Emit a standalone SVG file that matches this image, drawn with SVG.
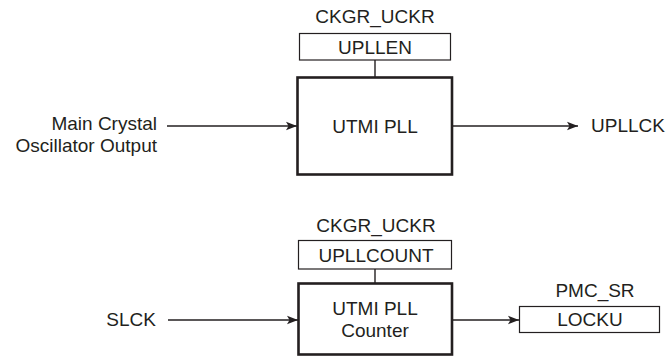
<svg xmlns="http://www.w3.org/2000/svg" width="670" height="360" viewBox="0 0 670 360">
<style>
text{font-family:"Liberation Sans",Arial,Helvetica,sans-serif;font-size:19px;fill:#231f20}
.c{text-anchor:middle}
.e{text-anchor:end}
.reg{fill:#fff;stroke:#231f20;stroke-width:1.2}
.blk{fill:#fff;stroke:#231f20;stroke-width:2.6}
.ln{fill:none;stroke:#231f20;stroke-width:1.4}
</style>
<defs>
<marker id="ah" markerUnits="userSpaceOnUse" markerWidth="12" markerHeight="10" refX="11" refY="5" orient="auto">
<path d="M0,0.8 L11,5 L0,9.2 L2.5,5 Z" fill="#231f20"/>
</marker>
</defs>
<g id="connectors">
<line class="ln" x1="167" y1="126" x2="297" y2="126" marker-end="url(#ah)"/>
<line class="ln" x1="453" y1="126" x2="578" y2="126" marker-end="url(#ah)"/>
<line class="ln" x1="375" y1="60" x2="375" y2="77"/>
<line class="ln" x1="168" y1="320" x2="298" y2="320" marker-end="url(#ah)"/>
<line class="ln" x1="453" y1="320" x2="519" y2="320" marker-end="url(#ah)"/>
<line class="ln" x1="375" y1="269" x2="375" y2="283"/>
</g>
<g id="main-crystal">
<text class="e" x="157" y="130">Main Crystal</text>
<text class="e" x="157" y="152">Oscillator Output</text>
</g>
<g id="upllen">
<text class="c" x="375" y="23">CKGR_UCKR</text>
<rect class="reg" x="299.5" y="33.5" width="151" height="26.5"/>
<text class="c" x="375" y="54">UPLLEN</text>
</g>
<g id="utmi-pll">
<rect class="blk" x="297.5" y="77.5" width="154.5" height="97"/>
<text class="c" x="375" y="133">UTMI PLL</text>
</g>
<g id="upllck">
<text x="591" y="132">UPLLCK</text>
</g>
<g id="slck">
<text class="e" x="156" y="326">SLCK</text>
</g>
<g id="upllcount">
<text class="c" x="376" y="232">CKGR_UCKR</text>
<rect class="reg" x="298.5" y="240.5" width="153" height="28.5"/>
<text class="c" x="376" y="262">UPLLCOUNT</text>
</g>
<g id="counter">
<rect class="blk" x="298.5" y="283.5" width="153.5" height="71"/>
<text class="c" x="375" y="315">UTMI PLL</text>
<text class="c" x="375" y="337">Counter</text>
</g>
<g id="locku">
<text class="c" x="595" y="297">PMC_SR</text>
<rect class="reg" x="519.5" y="306.5" width="140" height="26"/>
<text class="c" x="590" y="326">LOCKU</text>
</g>
</svg>
